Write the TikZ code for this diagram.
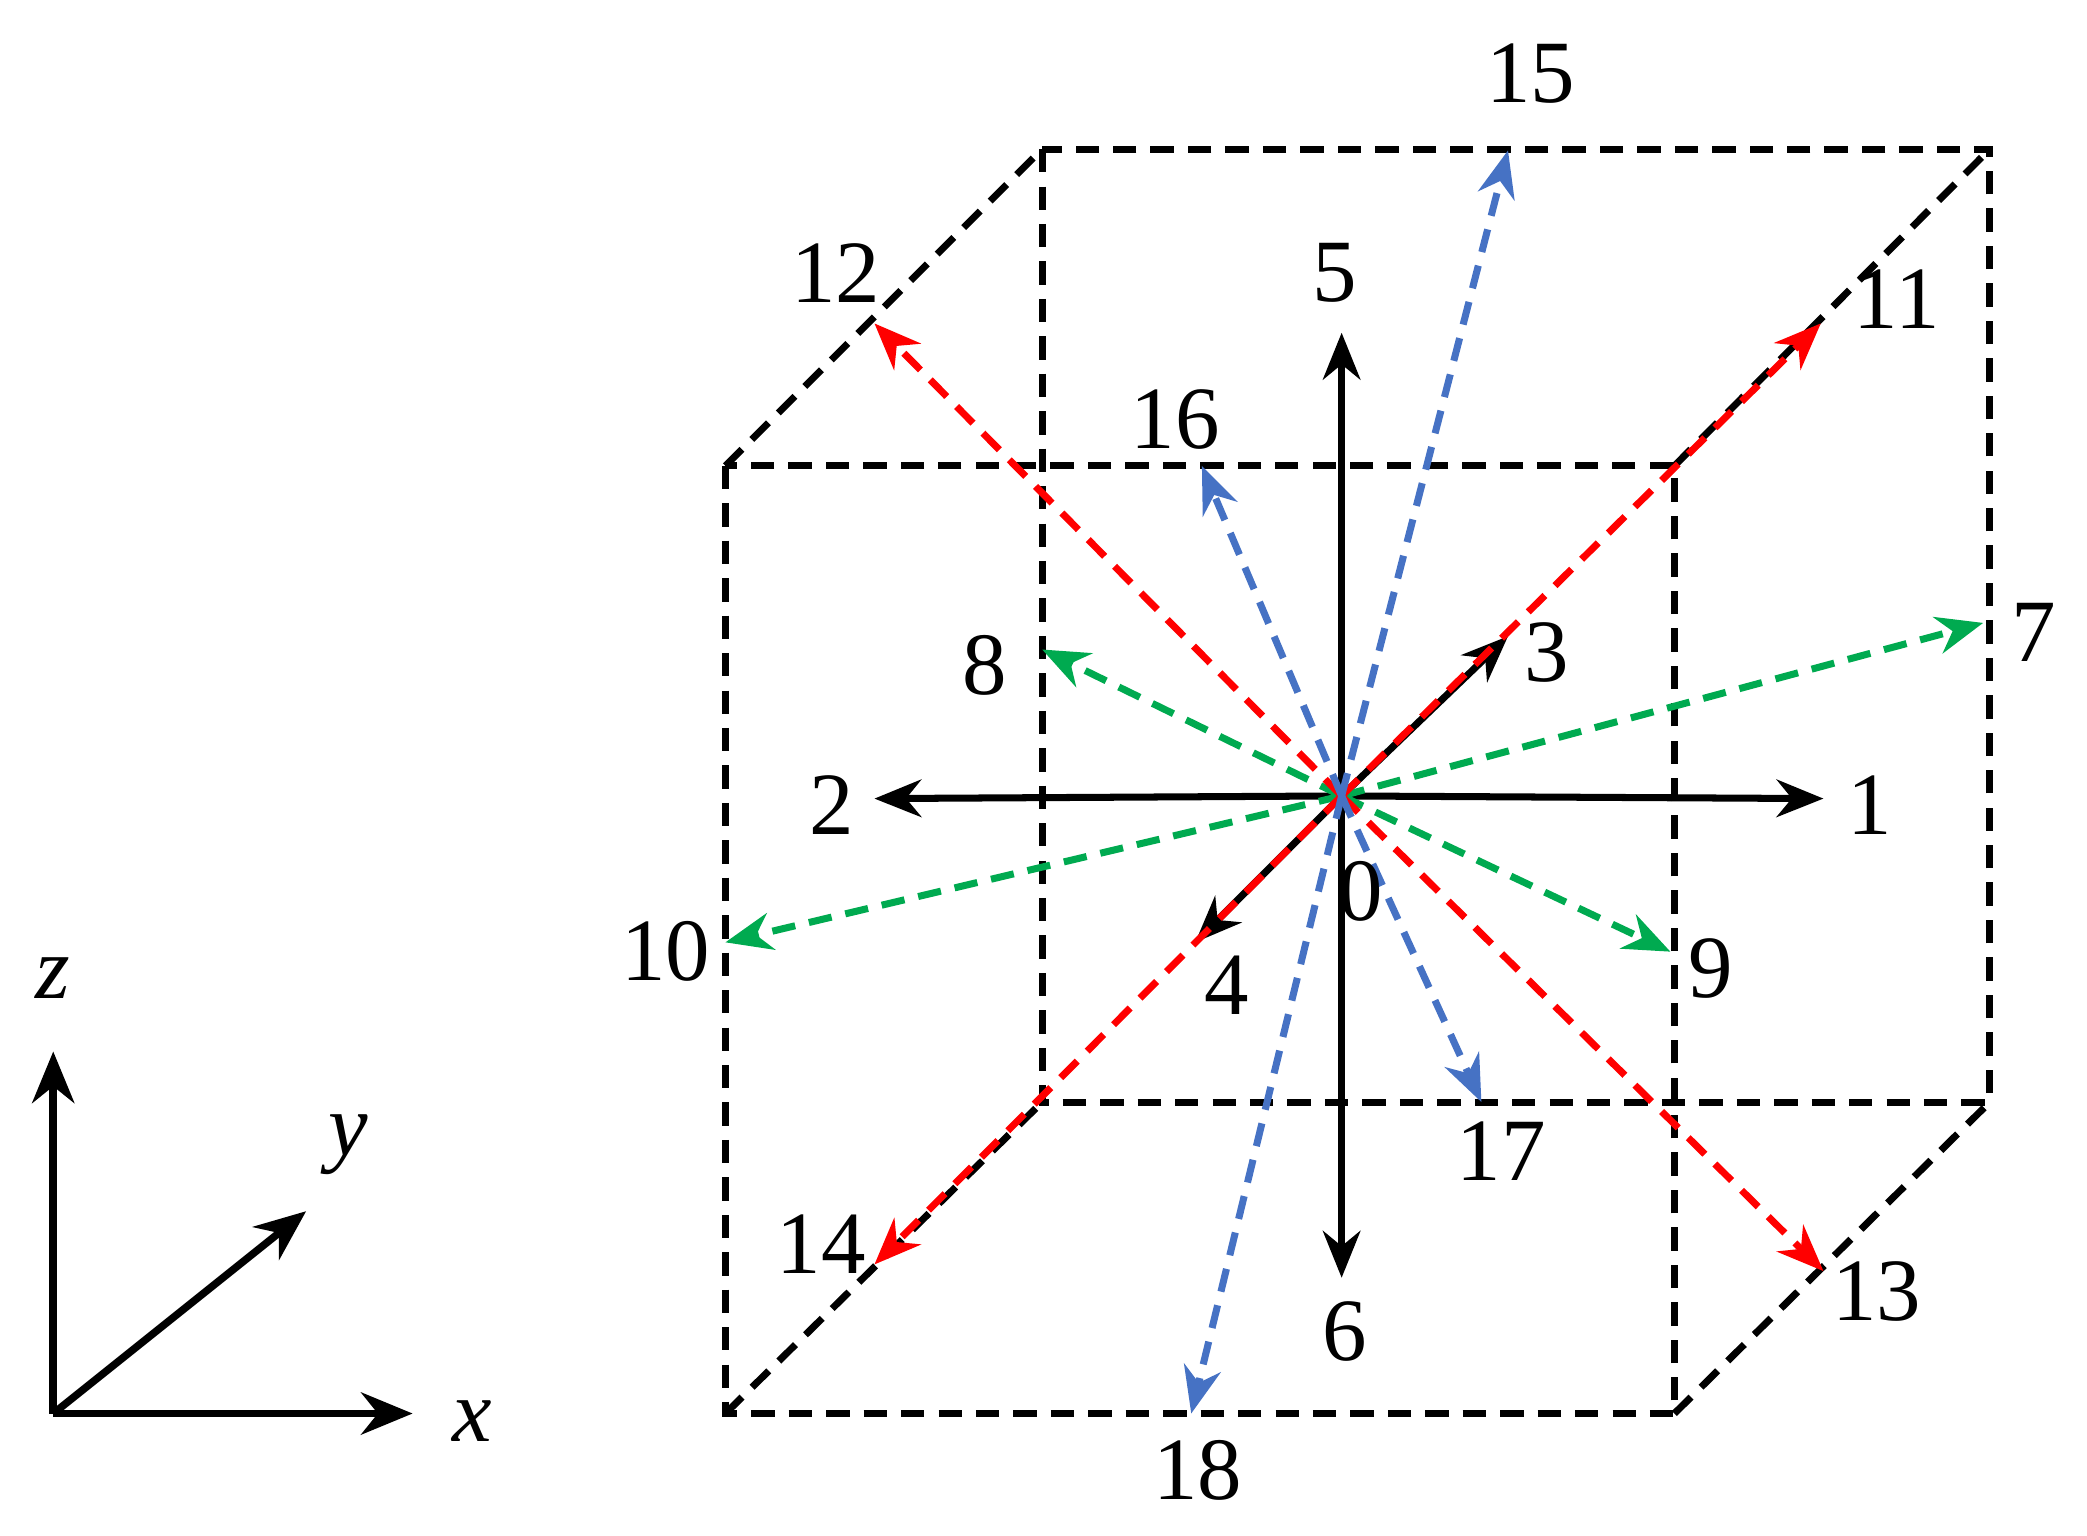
\documentclass[tikz,border=0pt]{standalone}
\usepackage{fontspec}
\setmainfont{Liberation Serif}
\usetikzlibrary{arrows.meta}
\begin{document}
\begin{tikzpicture}[x=0.01cm,y=-0.01cm,
  box/.style={black,line width=1.5pt,dash pattern=on 5pt off 3pt},
  vec/.style={line width=1.5pt,-{Stealth[length=10pt,width=8pt]}},
  dvec/.style={vec,dash pattern=on 5pt off 3pt},
  lab/.style={font=\fontsize{19}{22}\selectfont},
  ax/.style={line width=1.6pt,-{Stealth[length=11pt,width=9pt]}}]
\useasboundingbox (0,0) rectangle (1568,1154);
\definecolor{rd}{RGB}{255,0,0}
\definecolor{gr}{RGB}{0,170,80}
\definecolor{bl}{RGB}{70,114,196}
% cube
\draw[box] (545,350) rectangle (1258,1062);
\draw[box] (783,112) rectangle (1495,828);
\draw[box] (545,350)--(783,112) (1258,350)--(1495,112) (545,1062)--(783,828) (1258,1062)--(1495,828);
\coordinate (O) at (1008,598);
\foreach \n/\x/\y in {1/1370/600,2/657/600,3/1133/478,4/898/708,5/1008/250,6/1008/960}
  \draw[vec] (O) -- (\x,\y) coordinate (e\n);
\foreach \n/\x/\y in {7/1490/468,8/783/488,9/1255/715,10/545/708}
  \draw[dvec,gr] (O) -- (\x,\y) coordinate (e\n);
\foreach \n/\x/\y in {11/1368/243,12/657/243,13/1370/955,14/657/950}
  \draw[dvec,rd] (O) -- (\x,\y) coordinate (e\n);
\foreach \n/\x/\y in {15/1133/113,16/903/350,17/1113/828,18/895/1062}
  \draw[dvec,bl] (O) -- (\x,\y) coordinate (e\n);
\foreach \n/\x/\y in {0/1022/670,1/1405/605,2/625/605,3/1162/490,4/922/740,5/1003/205,6/1010/1000,7/1528/475,8/740/500,9/1285/728,10/500/715,11/1425/225,12/628/205,13/1410/970,14/617/935,15/1150/55,16/883/315,17/1128/865,18/900/1105}
  \node[lab] (l\n) at (\x,\y) {\n};
% axes
\coordinate (A) at (40,1062);
\draw[ax] (A) -- (40,790) coordinate (az);
\draw[ax] (A) -- (230,910) coordinate (ay);
\draw[ax] (A) -- (310,1062) coordinate (ax);
\node[lab] (lz) at (40,735) {\textit{z}};
\node[lab] (ly) at (262,860) {\textit{y}};
\node[lab] (lx) at (355,1068) {\textit{x}};
\end{tikzpicture}
\end{document}
